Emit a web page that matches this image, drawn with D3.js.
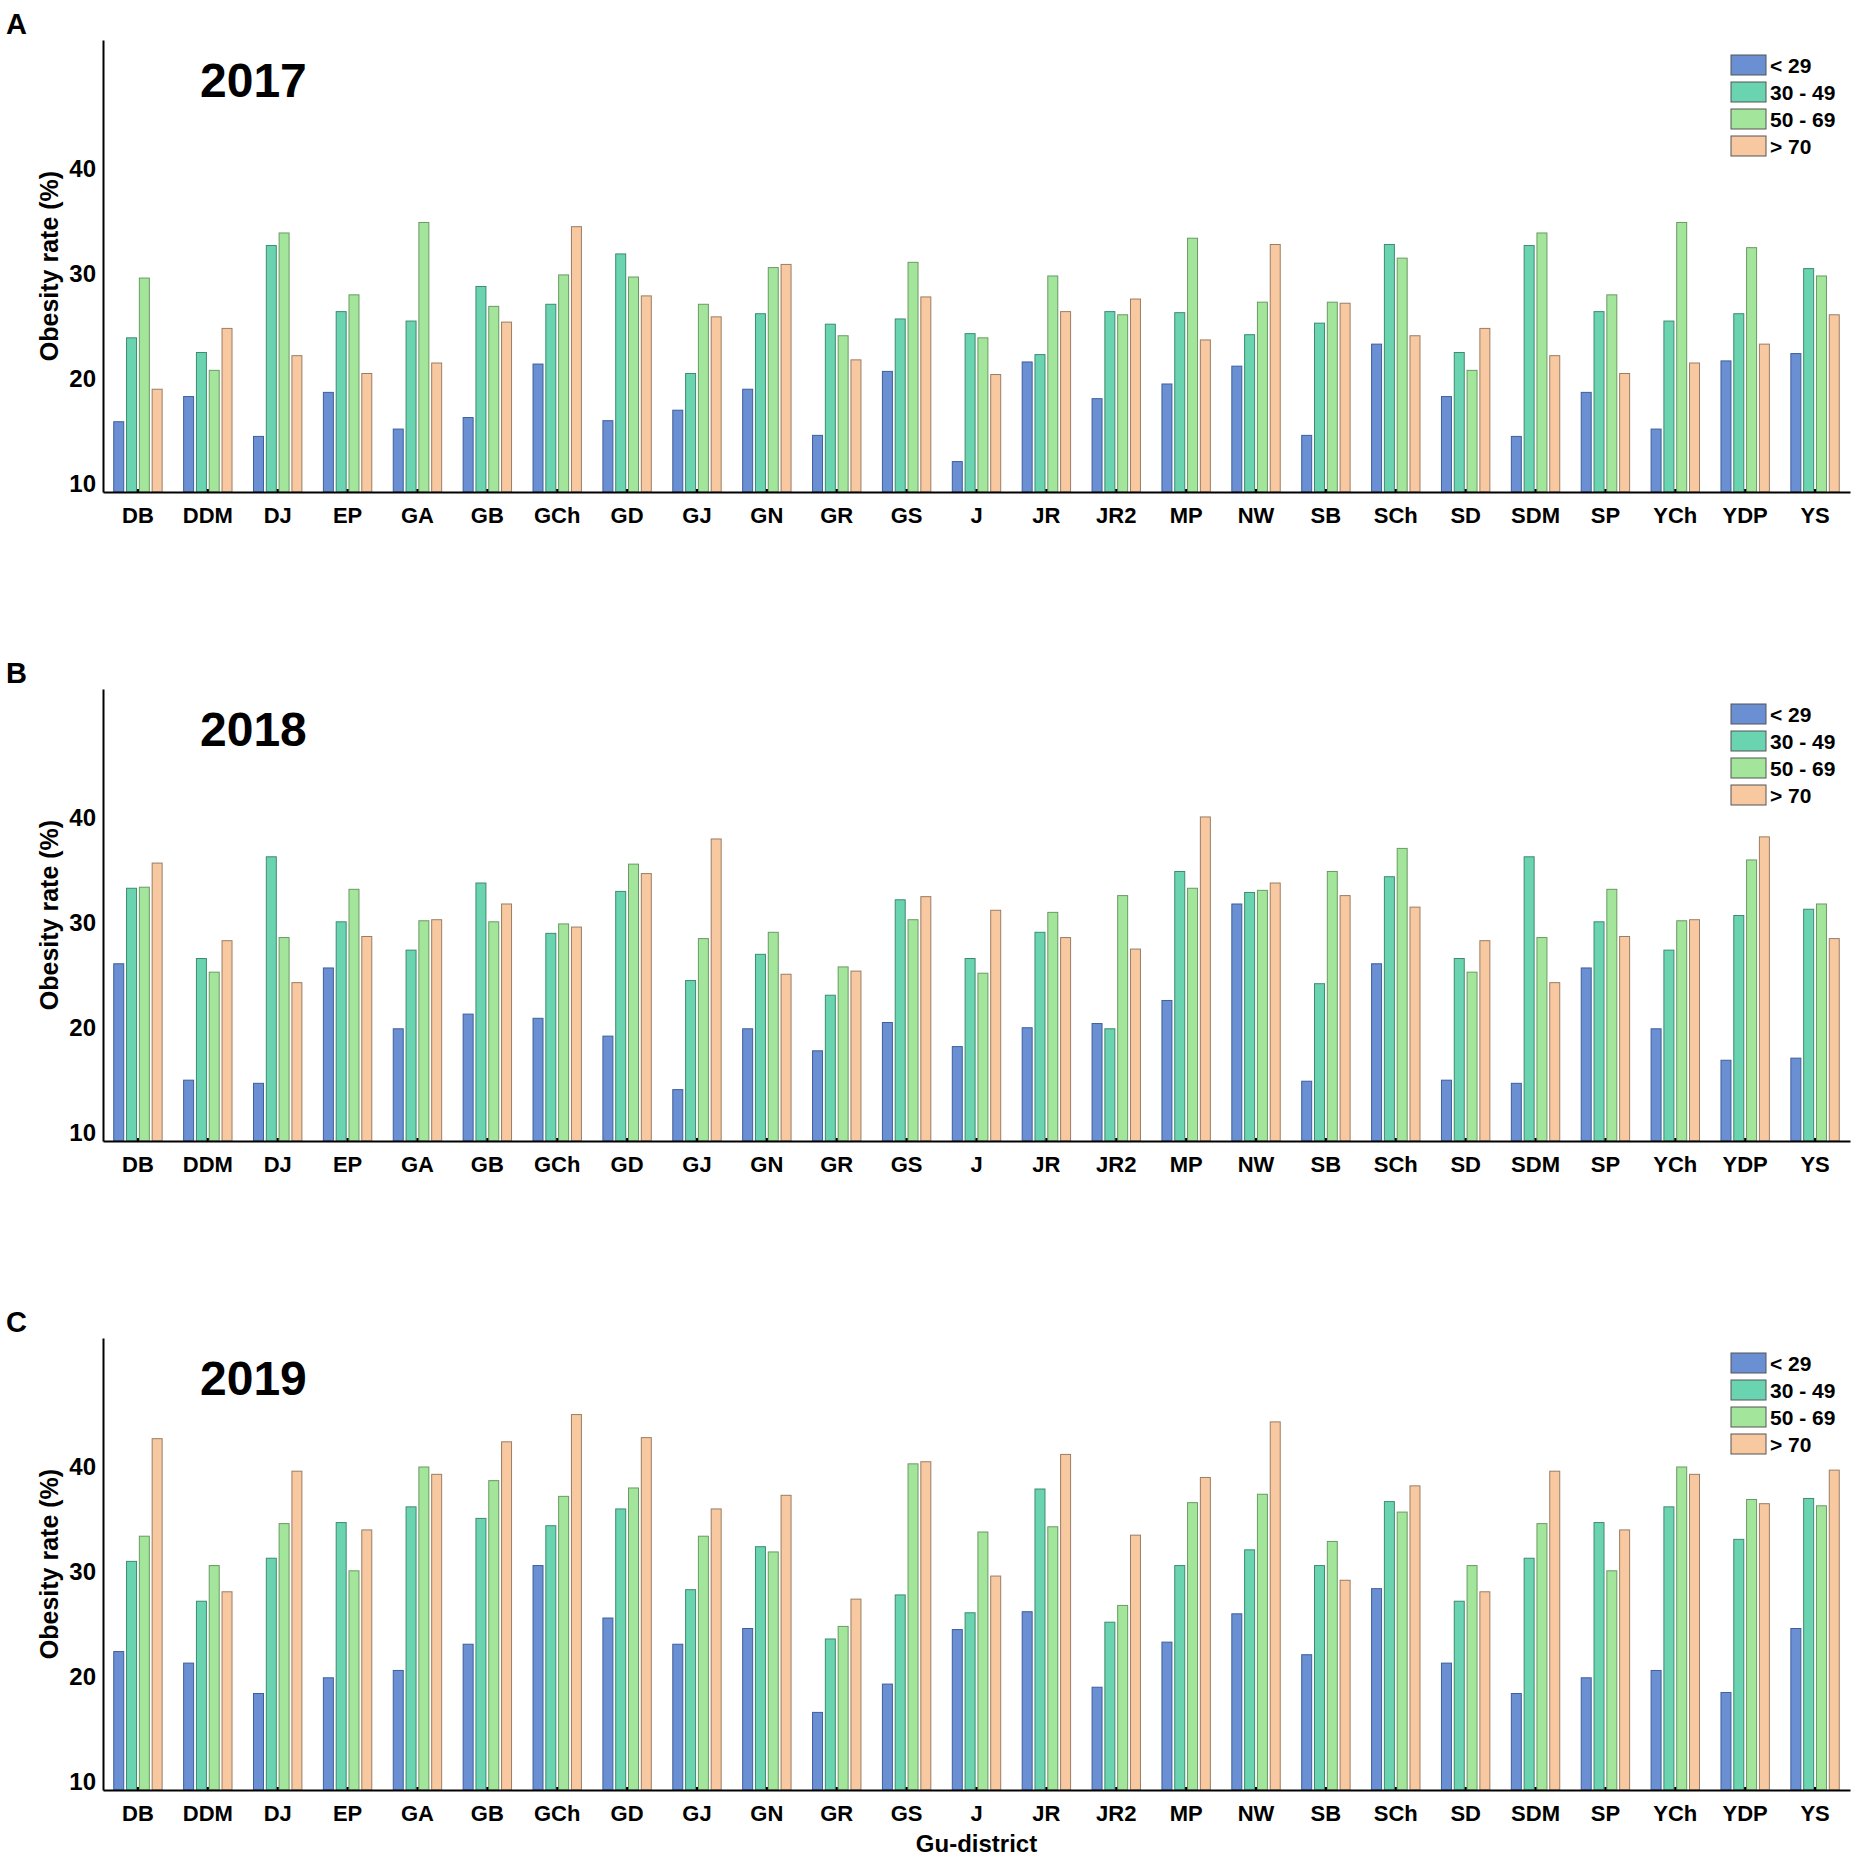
<!DOCTYPE html>
<html>
<head>
  <meta charset="utf-8">
  <title>Obesity rate by Gu-district</title>
  <script src="https://cdn.jsdelivr.net/npm/d3@7/dist/d3.min.js"></script>
  <style>
    body { margin: 0; background: #fff; }
    text { font-family: "Liberation Sans", Arial, sans-serif; font-weight: bold; fill: #000; }
  </style>
</head>
<body>
<div id="container"></div>
<script>
  var districts = ["DB","DDM","DJ","EP","GA","GB","GCh","GD","GJ","GN","GR","GS","J",
                   "JR","JR2","MP","NW","SB","SCh","SD","SDM","SP","YCh","YDP","YS"];
  var ageGroups = ["< 29", "30 - 49", "50 - 69", "> 70"];
  var years = ["2017", "2018", "2019"];
  var panelLetters = ["A", "B", "C"];
  var yTicks = [10, 20, 30, 40];

  // 2017
  var y2017_u29 = [15.8,18.2,14.4,18.6,15.1,16.2,21.3,15.9,16.9,18.9,14.5,20.6,12.0,21.5,18.0,19.4,21.1,14.5,23.2,18.2,14.4,18.6,15.1,21.6,22.3];
  var y2017_30  = [23.8,22.4,32.6,26.3,25.4,28.7,27.0,31.8,20.4,26.1,25.1,25.6,24.2,22.2,26.3,26.2,24.1,25.2,32.7,22.4,32.6,26.3,25.4,26.1,30.4];
  var y2017_50  = [29.5,20.7,33.8,27.9,34.8,26.8,29.8,29.6,27.0,30.5,24.0,31.0,23.8,29.7,26.0,33.3,27.2,27.2,31.4,20.7,33.8,27.9,34.8,32.4,29.7];
  var y2017_70  = [18.9,24.7,22.1,20.4,21.4,25.3,34.4,27.8,25.8,30.8,21.7,27.7,20.3,26.3,27.5,23.6,32.7,27.1,24.0,24.7,22.1,20.4,21.4,23.2,26.0];

  // 2018
  var y2018_u29 = [26.0,14.9,14.6,25.6,19.8,21.2,20.8,19.1,14.0,19.8,17.7,20.4,18.1,19.9,20.3,22.5,31.7,14.8,26.0,14.9,14.6,25.6,19.8,16.8,17.0];
  var y2018_30  = [33.2,26.5,36.2,30.0,27.3,33.7,28.9,32.9,24.4,26.9,23.0,32.1,26.5,29.0,19.8,34.8,32.8,24.1,34.3,26.5,36.2,30.0,27.3,30.6,31.2];
  var y2018_50  = [33.3,25.2,28.5,33.1,30.1,30.0,29.8,35.5,28.4,29.0,25.7,30.2,25.1,30.9,32.5,33.2,33.0,34.8,37.0,25.2,28.5,33.1,30.1,35.9,31.7];
  var y2018_70  = [35.6,28.2,24.2,28.6,30.2,31.7,29.5,34.6,37.9,25.0,25.3,32.4,31.1,28.5,27.4,40.0,33.7,32.5,31.4,28.2,24.2,28.6,30.2,38.1,28.4];

  // 2019
  var y2019_u29 = [22.3,21.2,18.3,19.8,20.5,23.0,30.5,25.5,23.0,24.5,16.5,19.2,24.4,26.1,18.9,23.2,25.9,22.0,28.3,21.2,18.3,19.8,20.5,18.4,24.5];
  var y2019_30  = [30.9,27.1,31.2,34.6,36.1,35.0,34.3,35.9,28.2,32.3,23.5,27.7,26.0,37.8,25.1,30.5,32.0,30.5,36.6,27.1,31.2,34.6,36.1,33.0,36.9];
  var y2019_50  = [33.3,30.5,34.5,30.0,39.9,38.6,37.1,37.9,33.3,31.8,24.7,40.2,33.7,34.2,26.7,36.5,37.3,32.8,35.6,30.5,34.5,30.0,39.9,36.8,36.2];
  var y2019_70  = [42.6,28.0,39.5,33.9,39.2,42.3,44.9,42.7,35.9,37.2,27.3,40.4,29.5,41.1,33.4,38.9,44.2,29.1,38.1,28.0,39.5,33.9,39.2,36.4,39.6];

  var seriesByYear = [
    [y2017_u29, y2017_30, y2017_50, y2017_70],
    [y2018_u29, y2018_30, y2018_50, y2018_70],
    [y2019_u29, y2019_30, y2019_50, y2019_70]
  ];

  var colors = ["#6a8fd3", "#6ad4b0", "#a3e59b", "#f8c9a0"];
  var strokes = ["#3f5f9c", "#3f8a70", "#6a9a64", "#9a7d64"];

  var width = 1857, height = 1864;
  var left = 103, right = 1850;
  var panelBottoms = [492, 1141, 1790];
  var panelH = 452;

  var svg = d3.select("#container").append("svg")
      .attr("width", width).attr("height", height)
      .style("background", "#fff");

  var x = d3.scaleBand().domain(districts).range([left, right]).padding(0);
  var xInner = d3.scaleBand().domain(d3.range(ageGroups.length))
      .range([-24.2, 24.2]).paddingInner(0.22).paddingOuter(0);

  years.forEach(function(year, p) {
    var bottom = panelBottoms[p];
    var panelTop = bottom - panelH;
    var y = d3.scaleLinear().domain([9.1, 52.2]).range([bottom, panelTop]);
    var g = svg.append("g").attr("class", "panel" + p);

    // bars
    var data = [];
    districts.forEach(function(d, i) {
      for (var s = 0; s < ageGroups.length; s++) {
        data.push({ district: d, series: s, value: seriesByYear[p][s][i] });
      }
    });
    g.append("g").selectAll("rect").data(data).enter().append("rect")
      .attr("x", function(d) { return x(d.district) + x.bandwidth() / 2 + xInner(d.series); })
      .attr("width", xInner.bandwidth())
      .attr("y", function(d) { return y(d.value); })
      .attr("height", function(d) { return y(y.domain()[0]) - y(d.value); })
      .attr("fill", function(d) { return colors[d.series]; })
      .attr("stroke", function(d) { return strokes[d.series]; })
      .attr("stroke-width", 1);

    // y axis
    var yAxis = g.append("g").attr("transform", "translate(" + left + ",0)")
      .call(d3.axisLeft(y).tickValues(yTicks).tickSize(0).tickPadding(7).tickSizeOuter(0));
    yAxis.select(".domain").attr("stroke", "#000").attr("stroke-width", 2);
    yAxis.selectAll("text").style("font-size", "24px").attr("dy", "0.36em");

    // x axis
    var xAxis = g.append("g").attr("transform", "translate(0," + bottom + ")")
      .call(d3.axisBottom(x).tickSize(-3).tickPadding(15).tickSizeOuter(0));
    xAxis.select(".domain").attr("stroke", "#000").attr("stroke-width", 2);
    xAxis.selectAll(".tick line").attr("stroke", "#000").attr("stroke-width", 2);
    xAxis.selectAll("text").style("font-size", "22px");

    // y label
    g.append("text")
      .attr("transform", "translate(58," + ((panelTop + bottom) / 2) + ") rotate(-90)")
      .attr("text-anchor", "middle")
      .style("font-size", "25px")
      .text("Obesity rate (%)");

    // panel letter and year
    g.append("text").attr("x", 6).attr("y", panelTop - 6)
      .style("font-size", "29px").text(panelLetters[p]);
    g.append("text").attr("x", 200).attr("y", panelTop + 57)
      .style("font-size", "48px").text(year);

    // legend
    var legend = g.append("g").attr("transform", "translate(1731," + (panelTop + 15) + ")");
    ageGroups.forEach(function(a, i) {
      legend.append("rect").attr("x", 0).attr("y", i * 27)
        .attr("width", 35).attr("height", 20)
        .attr("fill", colors[i]).attr("stroke", "#555").attr("stroke-width", 1);
      legend.append("text").attr("x", 39).attr("y", i * 27 + 17.5)
        .style("font-size", "21px").text(a);
    });
  });

  svg.append("text")
    .attr("x", (left + right) / 2).attr("y", 1852)
    .attr("text-anchor", "middle")
    .style("font-size", "24px")
    .text("Gu-district");
</script>
</body>
</html>
